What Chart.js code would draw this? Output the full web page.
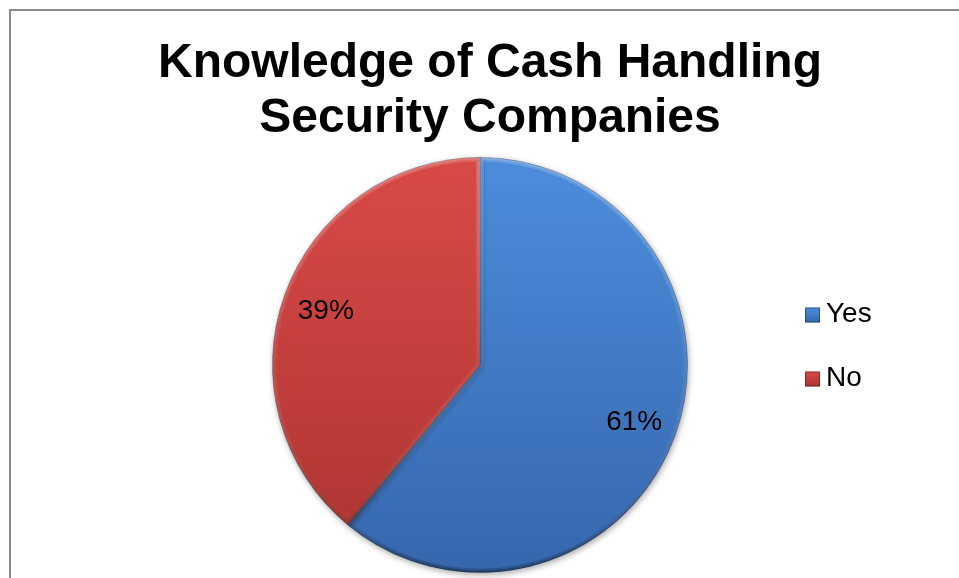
<!DOCTYPE html>
<html>
<head>
<meta charset="utf-8">
<script src="https://cdn.jsdelivr.net/npm/chart.js@4.4.0/dist/chart.umd.min.js"></script>
<style>
  html, body { margin: 0; padding: 0; background: #fff; overflow: hidden; }
  #wrap { position: relative; width: 959px; height: 578px; }
  #frame { position: absolute; left: 9px; top: 9px; width: 1000px; height: 1000px; border: 2px solid #8a8a8a; box-sizing: border-box; }
  #title {
    position: absolute; left: 0; top: 33px; width: 980px; text-align: center;
    font: bold 48px "Liberation Sans", Arial, sans-serif; line-height: 55px; color: #000;
  }
  canvas { position: absolute; left: 0; top: 0; }
</style>
</head>
<body>
<div id="wrap">
  <div id="frame"></div>
  <canvas id="pie" width="959" height="578"></canvas>
  <div id="title">Knowledge of Cash Handling<br>Security Companies</div>
</div>
<script>
const answers = ["Yes", "No"];
const shares = [61, 39];
const topColors = ["#4c8ddc", "#da4a47"];
const bottomColors = ["#3667ad", "#ab3431"];

const fontFamily = '"Liberation Sans", Arial, sans-serif';

function sliceFill(context) {
  const chart = context.chart;
  const area = chart.chartArea;
  const i = context.dataIndex;
  if (!area) return topColors[i];
  const g = chart.ctx.createLinearGradient(0, area.top, 0, area.bottom);
  g.addColorStop(0, topColors[i]);
  g.addColorStop(1, bottomColors[i]);
  return g;
}

// soft drop shadow under the pie, then a bevel on every slice
const bevel = {
  id: "bevel",
  beforeDatasetsDraw(chart) {
    const ctx = chart.ctx;
    ctx.save();
    ctx.shadowColor = "rgba(0,0,0,0.35)";
    ctx.shadowBlur = 6;
    ctx.shadowOffsetX = 1;
    ctx.shadowOffsetY = 2;
  },
  afterDatasetsDraw(chart) {
    const ctx = chart.ctx;
    ctx.restore();
    const area = chart.chartArea;
    chart.getDatasetMeta(0).data.forEach((arc) => {
      const p = arc.getProps(["x", "y", "startAngle", "endAngle", "outerRadius"], true);
      ctx.save();
      ctx.beginPath();
      ctx.moveTo(p.x, p.y);
      ctx.arc(p.x, p.y, p.outerRadius, p.startAngle, p.endAngle);
      ctx.closePath();
      ctx.clip();
      const g = ctx.createLinearGradient(0, area.top, 0, area.bottom);
      g.addColorStop(0, "rgba(255,255,255,0.16)");
      g.addColorStop(0.5, "rgba(255,255,255,0.05)");
      g.addColorStop(1, "rgba(0,0,0,0.20)");
      ctx.strokeStyle = g;
      ctx.lineJoin = "round";
      ctx.lineWidth = 8;
      ctx.stroke();
      ctx.lineWidth = 4;
      ctx.stroke();
      ctx.restore();
    });
  },
};

// percentage labels inside the slices
const sliceLabels = {
  id: "sliceLabels",
  afterDatasetsDraw(chart) {
    const ctx = chart.ctx;
    const values = chart.data.datasets[0].data;
    ctx.save();
    ctx.font = "28px " + fontFamily;
    ctx.fillStyle = "#000";
    ctx.textAlign = "center";
    ctx.textBaseline = "middle";
    chart.getDatasetMeta(0).data.forEach((arc, i) => {
      const p = arc.getProps(["x", "y", "startAngle", "endAngle", "outerRadius"], true);
      const mid = (p.startAngle + p.endAngle) / 2;
      const r = p.outerRadius * 0.79;
      ctx.fillText(values[i] + "%", p.x + Math.cos(mid) * r, p.y + Math.sin(mid) * r + 2);
    });
    ctx.restore();
  },
};

// legend on the right
const sideLegend = {
  id: "sideLegend",
  afterDraw(chart) {
    const ctx = chart.ctx;
    const x = 805, y0 = 315, step = 64, box = 15;
    ctx.save();
    chart.data.labels.forEach((label, i) => {
      const y = y0 + i * step;
      const g = ctx.createLinearGradient(0, y - box / 2, 0, y + box / 2);
      g.addColorStop(0, topColors[i]);
      g.addColorStop(1, bottomColors[i]);
      ctx.fillStyle = g;
      ctx.fillRect(x, y - box / 2, box, box);
      ctx.strokeStyle = "rgba(0,0,0,0.35)";
      ctx.lineWidth = 1;
      ctx.strokeRect(x + 0.5, y - box / 2 + 0.5, box - 1, box - 1);
      ctx.font = "28px " + fontFamily;
      ctx.fillStyle = "#000";
      ctx.textBaseline = "middle";
      ctx.fillText(label, x + 21, y - 1);
    });
    ctx.restore();
  },
};

new Chart(document.getElementById("pie"), {
  type: "pie",
  data: {
    labels: answers,
    datasets: [
      {
        data: shares,
        backgroundColor: sliceFill,
        borderColor: "rgba(30,30,50,0.35)",
        borderWidth: 1,
        hoverOffset: 0,
      },
    ],
  },
  options: {
    responsive: false,
    animation: false,
    events: [],
    layout: { padding: { left: 272, right: 271, top: 157, bottom: 5 } },
    plugins: {
      legend: { display: false },
      title: { display: false },
      tooltip: { enabled: false },
    },
  },
  plugins: [bevel, sliceLabels, sideLegend],
});
</script>
</body>
</html>
